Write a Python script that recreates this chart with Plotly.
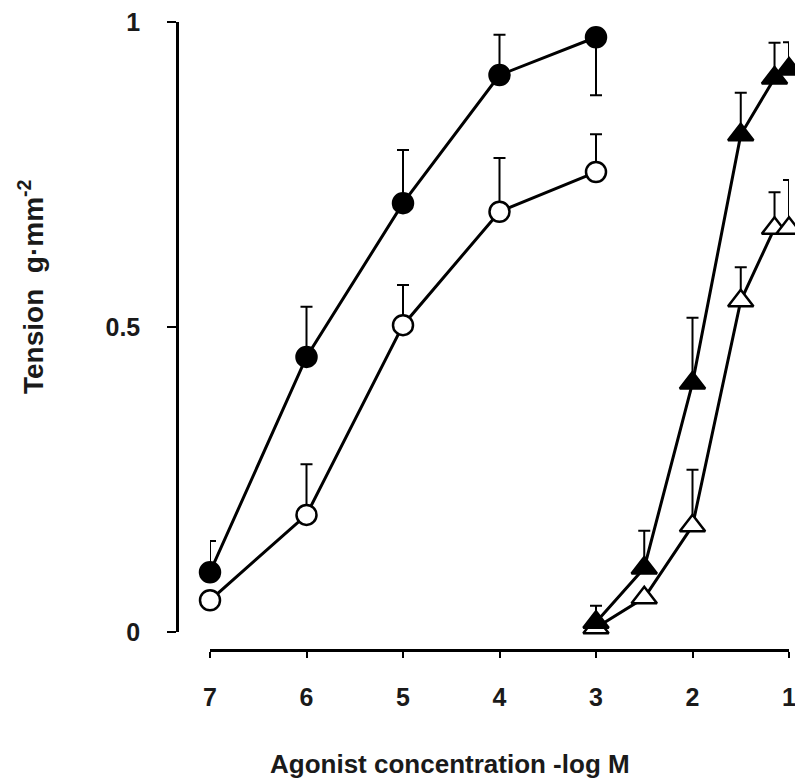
import plotly.graph_objects as go

# -log M concentrations
x_circ = [7, 6, 5, 4, 3]
x_tri = [3, 2.5, 2, 1.5, 1.15, 1]

# Filled circles
fc_y = [0.098, 0.451, 0.703, 0.913, 0.975]
fc_up = [0.051, 0.082, 0.087, 0.066, 0.0]
fc_dn = [0.0, 0.0, 0.0, 0.0, 0.095]

# Open circles
oc_y = [0.052, 0.192, 0.503, 0.689, 0.754]
oc_up = [0.0, 0.083, 0.066, 0.088, 0.062]

# Filled triangles
ft_y = [0.016, 0.105, 0.408, 0.815, 0.908, 0.923]
ft_up = [0.027, 0.061, 0.107, 0.069, 0.058, 0.044]

# Open triangles
ot_y = [0.007, 0.056, 0.174, 0.543, 0.662, 0.662]
ot_up = [0.0, 0.0, 0.092, 0.055, 0.059, 0.079]

y_tickvals = [0, 0.5, 1]
y_ticktext = ["0", "0.5", "1"]
x_tickvals = [7, 6, 5, 4, 3, 2, 1]
x_ticktext = ["7", "6", "5", "4", "3", "2", "1"]

FONT = "Liberation Sans, Arial, sans-serif"
TXT = "#1a1a1a"

def series(x, y, up, dn, symbol, fill):
    err = dict(type="data", symmetric=False, array=up,
               arrayminus=dn if dn is not None else [0] * len(up),
               color="black", thickness=2, width=6)
    return go.Scatter(
        x=x, y=y, mode="lines+markers", cliponaxis=False,
        line=dict(color="black", width=3),
        marker=dict(symbol=symbol, size=20 if "circle" in symbol else 22,
                    color=fill, line=dict(color="black", width=2.5)),
        error_y=err, showlegend=False)

fig = go.Figure()
fig.add_trace(series(x_circ, oc_y, oc_up, None, "circle", "white"))
fig.add_trace(series(x_circ, fc_y, fc_up, fc_dn, "circle", "black"))
fig.add_trace(series(x_tri, ot_y, ot_up, None, "triangle-up", "white"))
fig.add_trace(series(x_tri, ft_y, ft_up, None, "triangle-up", "black"))

W, H = 795, 778
L, R, T, B = 177, 6, 22, 128
pw, ph = W - L - R, H - T - B

fig.update_layout(
    width=W, height=H,
    margin=dict(l=L, r=R, t=T, b=B, autoexpand=False),
    paper_bgcolor="white", plot_bgcolor="white",
    font=dict(family=FONT, color=TXT, size=25),
    xaxis=dict(range=[7, 1], domain=[(210 - L) / pw, 1], anchor="free", position=0,
               tickvals=x_tickvals, ticktext=x_ticktext,
               ticks="outside", ticklen=6, tickwidth=2, tickcolor="black",
               showline=True, linewidth=2.5, linecolor="black",
               showgrid=False, zeroline=False, automargin=False,
               tickfont=dict(family=FONT, size=25, weight="bold", color=TXT),
               ticklabelstandoff=18, ticklabeloverflow="allow"),
    yaxis=dict(range=[0, 1], domain=[(650 - 632) / ph, 1], anchor="free", position=0,
               tickvals=y_tickvals, ticktext=y_ticktext,
               ticks="outside", ticklen=9, tickwidth=2, tickcolor="black",
               showline=True, linewidth=2.5, linecolor="black",
               showgrid=False, zeroline=False, automargin=False,
               tickfont=dict(family=FONT, size=25, weight="bold", color=TXT),
               ticklabelstandoff=22, ticklabeloverflow="allow"),
    annotations=[
        dict(text="Agonist concentration -log M", xref="paper", yref="paper",
             x=(450 - L) / pw, y=(650 - 764) / ph, xanchor="center", yanchor="middle",
             showarrow=False, font=dict(family=FONT, size=26, weight="bold", color=TXT)),
        dict(text="Tension  g·mm<sup>-2</sup>", xref="paper", yref="paper",
             x=(31 - L) / pw, y=(650 - 287) / ph, xanchor="center", yanchor="middle",
             textangle=-90, showarrow=False,
             font=dict(family=FONT, size=28, weight="bold", color=TXT)),
    ],
)

fig.write_html("out.html")
